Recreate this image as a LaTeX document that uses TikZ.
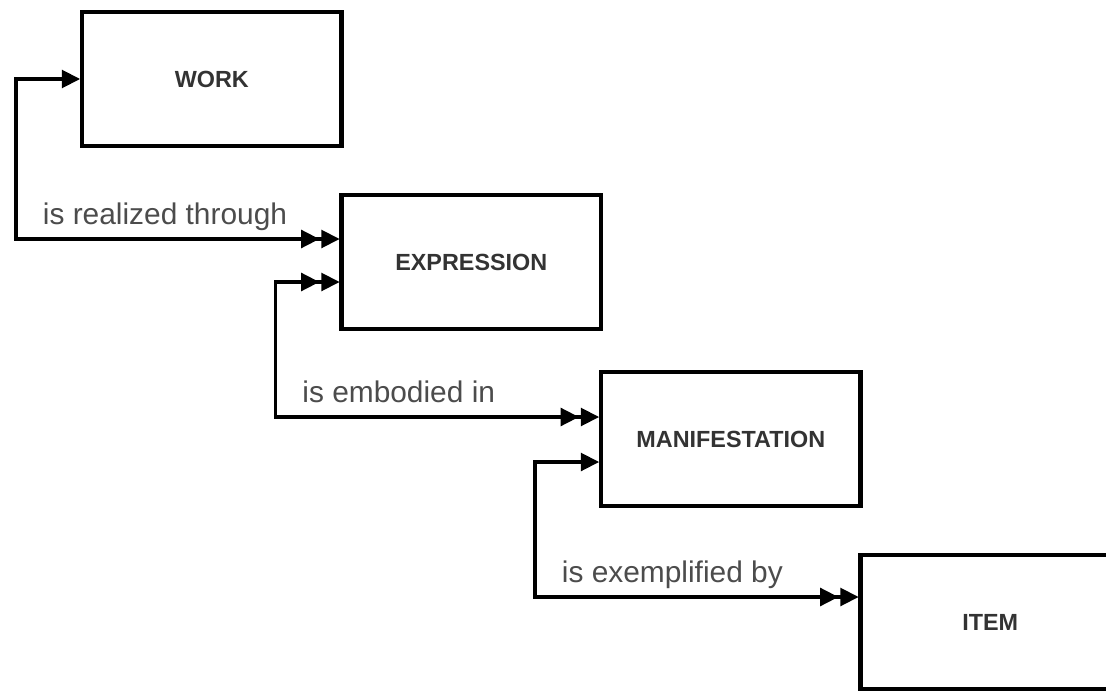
\documentclass[tikz,border=0pt]{standalone}
\usepackage{fontspec}
\setmainfont{Liberation Sans}
\usetikzlibrary{arrows.meta, positioning}

\begin{document}
\begin{tikzpicture}[
    >={Triangle[length=10.5pt,width=10pt,sep=1pt]},
    entity/.style={draw, line width=2.6pt, outer sep=0pt, inner sep=0pt, minimum width=5.19cm, minimum height=2.68cm, font=\fontsize{13.3}{16}\selectfont\bfseries, text=black!80},
    rel/.style={line width=2.2pt},
    rel label/.style={anchor=base west, inner sep=0pt, xshift=0.5cm, yshift=0.3cm, font=\fontsize{17}{20}\selectfont, text=black!70}
]
    % Canvas
    \useasboundingbox (0,0) rectangle (22.12,-13.8);

    % Entities
    \node[entity, anchor=north west] (work) at (1.64,-0.24) {WORK};
    \node[entity, below right=0.98cm and 0cm of work] (expression) {EXPRESSION};
    \node[entity, below right=0.86cm and 0cm of expression] (manifestation) {MANIFESTATION};
    \node[entity, below right=0.98cm and 0cm of manifestation] (item) {ITEM};

    % Relationships
    \draw[rel, <->>] (work.west) -- ++(-1.32,0) |- node[rel label] {is realized through} ([yshift=0.46cm]expression.west);
    \draw[rel, <<->>] ([yshift=-0.4cm]expression.west) -- ++(-1.32,0) |- node[rel label] {is embodied in} ([yshift=0.44cm]manifestation.west);
    \draw[rel, <->>] ([yshift=-0.46cm]manifestation.west) -- ++(-1.32,0) |- node[rel label] {is exemplified by} ([yshift=0.5cm]item.west);
\end{tikzpicture}
\end{document}
